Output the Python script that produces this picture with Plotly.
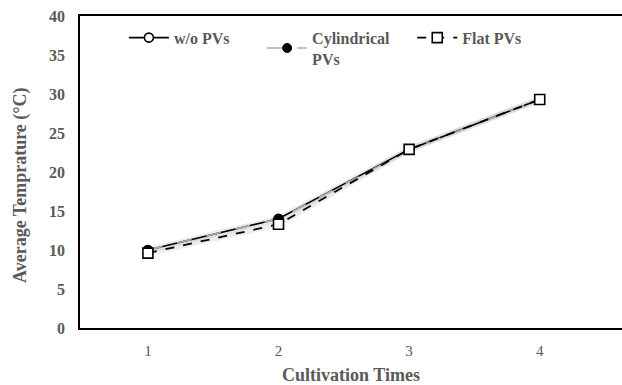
import plotly.graph_objects as go

times = [1, 2, 3, 4]
wo_pvs = [10.0, 14.0, 22.9, 29.3]
cyl_pvs = [10.0, 14.0, 22.8, 29.3]
flat_pvs = [9.6, 13.3, 22.9, 29.3]
y_ticks = [0, 5, 10, 15, 20, 25, 30, 35, 40]

serif = "Liberation Serif, Times New Roman, serif"
gray = "#595959"

fig = go.Figure()
# soft shadows
for ys in (wo_pvs, flat_pvs):
    fig.add_trace(go.Scatter(x=times, y=ys, mode="lines", line=dict(color="rgba(0,0,0,0.07)", width=6),
                             showlegend=False, hoverinfo="skip"))

fig.add_trace(go.Scatter(x=times, y=wo_pvs, name="w/o PVs", mode="lines+markers", legend="legend",
                         line=dict(color="black", width=1.6),
                         marker=dict(symbol="circle", size=9, color="white", line=dict(color="black", width=1.6))))
fig.add_trace(go.Scatter(x=times, y=cyl_pvs, name="Cylindrical<br>PVs", mode="lines+markers", legend="legend2",
                         line=dict(color="#b0b0b0", width=1.6, dash="longdash"),
                         marker=dict(symbol="circle", size=9, color="black", line=dict(color="black", width=1))))
fig.add_trace(go.Scatter(x=times, y=flat_pvs, name="Flat PVs", mode="lines+markers", legend="legend3",
                         line=dict(color="black", width=1.8, dash="dash"),
                         marker=dict(symbol="square", size=10, color="white", line=dict(color="black", width=1.6))))

leg_font = dict(family=serif, size=16, color=gray, weight="bold")
leg_common = dict(orientation="h", y=0.985, xanchor="left", yanchor="top",
                  font=leg_font, bgcolor="rgba(0,0,0,0)", itemwidth=40)

fig.update_layout(
    width=622, height=385,
    margin=dict(l=80, r=0, t=16, b=57),
    paper_bgcolor="white", plot_bgcolor="white",
    font=dict(family=serif, color=gray),
    legend=dict(x=0.081, **leg_common),
    legend2=dict(x=0.336, **leg_common),
    legend3=dict(x=0.613, **leg_common),
    xaxis=dict(range=[0.48, 4.63], tickvals=times, ticktext=[str(t) for t in times],
               showgrid=False, zeroline=False, showline=True, linecolor="black", linewidth=1.5,
               mirror=True, ticks="", ticklabelstandoff=8,
               tickfont=dict(family=serif, size=15, color=gray),
               title=dict(text="<b>Cultivation Times</b>", font=dict(family=serif, size=18, color=gray),
                          standoff=11)),
    yaxis=dict(range=[0, 40], tickvals=y_ticks, showgrid=False, zeroline=False, showline=True,
               linecolor="black", linewidth=1.5, ticks="", ticklabelstandoff=10,
               tickfont=dict(family=serif, size=16, color=gray, weight="bold")),
    annotations=[dict(text="<b>Average Temprature (°C)</b>", textangle=-90, showarrow=False,
                      xref="paper", yref="paper", x=-0.111, y=0.458, xanchor="center", yanchor="middle",
                      font=dict(family=serif, size=18, color=gray))],
)

fig.write_html("out.html")
